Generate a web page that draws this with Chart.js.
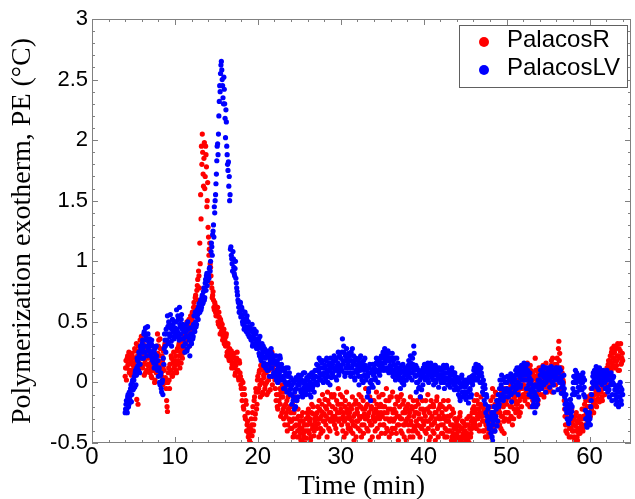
<!DOCTYPE html>
<html><head><meta charset="utf-8">
<script src="https://cdn.jsdelivr.net/npm/chart.js@4.4.1/dist/chart.umd.min.js"></script>
<style>html,body{margin:0;padding:0;background:#fff}</style>
</head><body><canvas id="c" width="635" height="499"></canvas>
<script>
const seriesNames = ['PalacosR', 'PalacosLV'];
const seriesColors = ['#ff0000', '#0000ff'];
const xTickValues = [0, 10, 20, 30, 40, 50, 60];
const yTickValues = [-0.5, 0, 0.5, 1, 1.5, 2, 2.5, 3];
const yTickLabels = ['-0.5', '0', '0.5', '1', '1.5', '2', '2.5', '3'];

// sample times (min), first pass
const times = [
4,4.1,4.2,4.3,4.4,4.5,4.6,4.7,4.8,4.9,
5,5.1,5.2,5.3,5.4,5.5,5.6,5.7,5.8,5.9,
6,6.1,6.2,6.3,6.4,6.5,6.6,6.7,6.8,6.9,
7,7.1,7.2,7.3,7.4,7.5,7.6,7.7,7.8,7.9,
8,8.1,8.2,8.3,8.4,8.5,8.6,8.7,8.8,8.9,
9,9.1,9.2,9.3,9.4,9.5,9.6,9.7,9.8,9.9,
10,10.1,10.2,10.3,10.4,10.5,10.6,10.7,10.8,10.9,
11,11.1,11.2,11.3,11.4,11.5,11.6,11.7,11.8,11.9,
12,12.1,12.2,12.3,12.4,12.5,12.6,12.7,12.8,12.9,
13,13.1,13.2,13.3,13.4,13.5,13.6,13.7,13.8,13.9,
14,14.1,14.2,14.3,14.4,14.5,14.6,14.7,14.8,14.9,
15,15.1,15.2,15.3,15.4,15.5,15.6,15.7,15.8,15.9,
16,16.1,16.2,16.3,16.4,16.5,16.6,16.7,16.8,16.9,
17,17.1,17.2,17.3,17.4,17.5,17.6,17.7,17.8,17.9,
18,18.1,18.2,18.3,18.4,18.5,18.6,18.7,18.8,18.9,
19,19.1,19.2,19.3,19.4,19.5,19.6,19.7,19.8,19.9,
20,20.1,20.2,20.3,20.4,20.5,20.6,20.7,20.8,20.9,
21,21.1,21.2,21.3,21.4,21.5,21.6,21.7,21.8,21.9,
22,22.1,22.2,22.3,22.4,22.5,22.6,22.7,22.8,22.9,
23,23.1,23.2,23.3,23.4,23.5,23.6,23.7,23.8,23.9,
24,24.1,24.2,24.3,24.4,24.5,24.6,24.7,24.8,24.9,
25,25.1,25.2,25.3,25.4,25.5,25.6,25.7,25.8,25.9,
26,26.1,26.2,26.3,26.4,26.5,26.6,26.7,26.8,26.9,
27,27.1,27.2,27.3,27.4,27.5,27.6,27.7,27.8,27.9,
28,28.1,28.2,28.3,28.4,28.5,28.6,28.7,28.8,28.9,
29,29.1,29.2,29.3,29.4,29.5,29.6,29.7,29.8,29.9,
30,30.1,30.2,30.3,30.4,30.5,30.6,30.7,30.8,30.9,
31,31.1,31.2,31.3,31.4,31.5,31.6,31.7,31.8,31.9,
32,32.1,32.2,32.3,32.4,32.5,32.6,32.7,32.8,32.9,
33,33.1,33.2,33.3,33.4,33.5,33.6,33.7,33.8,33.9,
34,34.1,34.2,34.3,34.4,34.5,34.6,34.7,34.8,34.9,
35,35.1,35.2,35.3,35.4,35.5,35.6,35.7,35.8,35.9,
36,36.1,36.2,36.3,36.4,36.5,36.6,36.7,36.8,36.9,
37,37.1,37.2,37.3,37.4,37.5,37.6,37.7,37.8,37.9,
38,38.1,38.2,38.3,38.4,38.5,38.6,38.7,38.8,38.9,
39,39.1,39.2,39.3,39.4,39.5,39.6,39.7,39.8,39.9,
40,40.1,40.2,40.3,40.4,40.5,40.6,40.7,40.8,40.9,
41,41.1,41.2,41.3,41.4,41.5,41.6,41.7,41.8,41.9,
42,42.1,42.2,42.3,42.4,42.5,42.6,42.7,42.8,42.9,
43,43.1,43.2,43.3,43.4,43.5,43.6,43.7,43.8,43.9,
44,44.1,44.2,44.3,44.4,44.5,44.6,44.7,44.8,44.9,
45,45.1,45.2,45.3,45.4,45.5,45.6,45.7,45.8,45.9,
46,46.1,46.2,46.3,46.4,46.5,46.6,46.7,46.8,46.9,
47,47.1,47.2,47.3,47.4,47.5,47.6,47.7,47.8,47.9,
48,48.1,48.2,48.3,48.4,48.5,48.6,48.7,48.8,48.9,
49,49.1,49.2,49.3,49.4,49.5,49.6,49.7,49.8,49.9,
50,50.1,50.2,50.3,50.4,50.5,50.6,50.7,50.8,50.9,
51,51.1,51.2,51.3,51.4,51.5,51.6,51.7,51.8,51.9,
52,52.1,52.2,52.3,52.4,52.5,52.6,52.7,52.8,52.9,
53,53.1,53.2,53.3,53.4,53.5,53.6,53.7,53.8,53.9,
54,54.1,54.2,54.3,54.4,54.5,54.6,54.7,54.8,54.9,
55,55.1,55.2,55.3,55.4,55.5,55.6,55.7,55.8,55.9,
56,56.1,56.2,56.3,56.4,56.5,56.6,56.7,56.8,56.9,
57,57.1,57.2,57.3,57.4,57.5,57.6,57.7,57.8,57.9,
58,58.1,58.2,58.3,58.4,58.5,58.6,58.7,58.8,58.9,
59,59.1,59.2,59.3,59.4,59.5,59.6,59.7,59.8,59.9,
60,60.1,60.2,60.3,60.4,60.5,60.6,60.7,60.8,60.9,
61,61.1,61.2,61.3,61.4,61.5,61.6,61.7,61.8,61.9,
62,62.1,62.2,62.3,62.4,62.5,62.6,62.7,62.8,62.9,
63,63.1,63.2,63.3,63.4,63.5,63.6,63.7,63.8,63.9,
64
];

// sample times (min), interleaved second pass
const timesHalf = [
4.05,4.15,4.25,4.35,4.45,4.55,4.65,4.75,4.85,4.95,
5.05,5.15,5.25,5.35,5.45,5.55,5.65,5.75,5.85,5.95,
6.05,6.15,6.25,6.35,6.45,6.55,6.65,6.75,6.85,6.95,
7.05,7.15,7.25,7.35,7.45,7.55,7.65,7.75,7.85,7.95,
8.05,8.15,8.25,8.35,8.45,8.55,8.65,8.75,8.85,8.95,
9.05,9.15,9.25,9.35,9.45,9.55,9.65,9.75,9.85,9.95,
10.05,10.15,10.25,10.35,10.45,10.55,10.65,10.75,10.85,10.95,
11.05,11.15,11.25,11.35,11.45,11.55,11.65,11.75,11.85,11.95,
12.05,12.15,12.25,12.35,12.45,12.55,12.65,12.75,12.85,12.95,
13.05,13.15,13.25,13.35,13.45,13.55,13.65,13.75,13.85,13.95,
14.05,14.15,14.25,14.35,14.45,14.55,14.65,14.75,14.85,14.95,
15.05,15.15,15.25,15.35,15.45,15.55,15.65,15.75,15.85,15.95,
16.05,16.15,16.25,16.35,16.45,16.55,16.65,16.75,16.85,16.95,
17.05,17.15,17.25,17.35,17.45,17.55,17.65,17.75,17.85,17.95,
18.05,18.15,18.25,18.35,18.45,18.55,18.65,18.75,18.85,18.95,
19.05,19.15,19.25,19.35,19.45,19.55,19.65,19.75,19.85,19.95,
20.05,20.15,20.25,20.35,20.45,20.55,20.65,20.75,20.85,20.95,
21.05,21.15,21.25,21.35,21.45,21.55,21.65,21.75,21.85,21.95,
22.05,22.15,22.25,22.35,22.45,22.55,22.65,22.75,22.85,22.95,
23.05,23.15,23.25,23.35,23.45,23.55,23.65,23.75,23.85,23.95,
24.05,24.15,24.25,24.35,24.45,24.55,24.65,24.75,24.85,24.95,
25.05,25.15,25.25,25.35,25.45,25.55,25.65,25.75,25.85,25.95,
26.05,26.15,26.25,26.35,26.45,26.55,26.65,26.75,26.85,26.95,
27.05,27.15,27.25,27.35,27.45,27.55,27.65,27.75,27.85,27.95,
28.05,28.15,28.25,28.35,28.45,28.55,28.65,28.75,28.85,28.95,
29.05,29.15,29.25,29.35,29.45,29.55,29.65,29.75,29.85,29.95,
30.05,30.15,30.25,30.35,30.45,30.55,30.65,30.75,30.85,30.95,
31.05,31.15,31.25,31.35,31.45,31.55,31.65,31.75,31.85,31.95,
32.05,32.15,32.25,32.35,32.45,32.55,32.65,32.75,32.85,32.95,
33.05,33.15,33.25,33.35,33.45,33.55,33.65,33.75,33.85,33.95,
34.05,34.15,34.25,34.35,34.45,34.55,34.65,34.75,34.85,34.95,
35.05,35.15,35.25,35.35,35.45,35.55,35.65,35.75,35.85,35.95,
36.05,36.15,36.25,36.35,36.45,36.55,36.65,36.75,36.85,36.95,
37.05,37.15,37.25,37.35,37.45,37.55,37.65,37.75,37.85,37.95,
38.05,38.15,38.25,38.35,38.45,38.55,38.65,38.75,38.85,38.95,
39.05,39.15,39.25,39.35,39.45,39.55,39.65,39.75,39.85,39.95,
40.05,40.15,40.25,40.35,40.45,40.55,40.65,40.75,40.85,40.95,
41.05,41.15,41.25,41.35,41.45,41.55,41.65,41.75,41.85,41.95,
42.05,42.15,42.25,42.35,42.45,42.55,42.65,42.75,42.85,42.95,
43.05,43.15,43.25,43.35,43.45,43.55,43.65,43.75,43.85,43.95,
44.05,44.15,44.25,44.35,44.45,44.55,44.65,44.75,44.85,44.95,
45.05,45.15,45.25,45.35,45.45,45.55,45.65,45.75,45.85,45.95,
46.05,46.15,46.25,46.35,46.45,46.55,46.65,46.75,46.85,46.95,
47.05,47.15,47.25,47.35,47.45,47.55,47.65,47.75,47.85,47.95,
48.05,48.15,48.25,48.35,48.45,48.55,48.65,48.75,48.85,48.95,
49.05,49.15,49.25,49.35,49.45,49.55,49.65,49.75,49.85,49.95,
50.05,50.15,50.25,50.35,50.45,50.55,50.65,50.75,50.85,50.95,
51.05,51.15,51.25,51.35,51.45,51.55,51.65,51.75,51.85,51.95,
52.05,52.15,52.25,52.35,52.45,52.55,52.65,52.75,52.85,52.95,
53.05,53.15,53.25,53.35,53.45,53.55,53.65,53.75,53.85,53.95,
54.05,54.15,54.25,54.35,54.45,54.55,54.65,54.75,54.85,54.95,
55.05,55.15,55.25,55.35,55.45,55.55,55.65,55.75,55.85,55.95,
56.05,56.15,56.25,56.35,56.45,56.55,56.65,56.75,56.85,56.95,
57.05,57.15,57.25,57.35,57.45,57.55,57.65,57.75,57.85,57.95,
58.05,58.15,58.25,58.35,58.45,58.55,58.65,58.75,58.85,58.95,
59.05,59.15,59.25,59.35,59.45,59.55,59.65,59.75,59.85,59.95,
60.05,60.15,60.25,60.35,60.45,60.55,60.65,60.75,60.85,60.95,
61.05,61.15,61.25,61.35,61.45,61.55,61.65,61.75,61.85,61.95,
62.05,62.15,62.25,62.35,62.45,62.55,62.65,62.75,62.85,62.95,
63.05,63.15,63.25,63.35,63.45,63.55,63.65,63.75,63.85,63.95
];

const palacosR = [
0.05,0.18,0.12,0.22,0.15,0.08,0.20,0.16,0.24,0.10,
0.20,0.14,0.26,0.18,-0.14,0.22,0.30,0.16,0.35,0.24,
0.28,0.12,0.22,0.06,0.18,0.30,0.10,0.25,0.15,0.20,
0.08,0.16,0.04,0.12,0.22,0.10,0.02,0.14,0.18,0.40,
0.30,0.22,0.36,0.12,0.05,0.18,0.26,0.10,0.32,0.00,
-0.15,-0.24,0.08,0.02,0.15,0.10,0.20,0.05,0.18,0.12,
0.14,0.22,0.08,0.28,0.18,0.32,0.12,0.25,0.34,0.20,
0.30,0.38,0.26,0.44,0.35,0.48,0.40,0.52,0.36,0.55,
0.45,0.58,0.50,0.66,0.55,0.72,0.62,0.80,0.68,0.88,
1.15,1.55,1.95,2.05,1.72,1.85,1.60,1.95,1.78,1.50,
1.28,1.05,1.15,0.95,0.82,0.70,0.75,0.62,0.66,0.58,
0.60,0.55,0.50,0.58,0.46,0.52,0.42,0.48,0.38,0.44,
0.36,0.30,0.40,0.25,0.32,0.20,0.28,0.18,0.26,0.15,
0.22,0.12,0.20,0.08,0.18,0.25,0.10,0.02,0.16,0.05,
-0.05,-0.15,0.00,-0.22,-0.10,-0.30,-0.18,-0.35,-0.25,-0.42,
-0.48,-0.38,-0.30,-0.44,-0.20,-0.35,-0.12,-0.26,-0.08,-0.18,
0.05,-0.05,0.10,-0.12,0.02,0.12,-0.08,0.06,0.15,-0.02,
0.08,-0.10,0.12,0.02,0.22,-0.06,0.18,0.25,0.05,0.14,
0.10,-0.05,-0.15,0.05,-0.22,-0.10,0.02,-0.18,-0.08,-0.25,
-0.12,-0.30,-0.20,-0.05,-0.28,-0.15,-0.35,-0.22,-0.10,-0.32,
-0.25,-0.38,-0.18,-0.30,-0.42,-0.22,-0.35,-0.15,-0.40,-0.28,
-0.45,-0.32,-0.48,-0.38,-0.25,-0.42,-0.35,-0.50,-0.30,-0.40,
-0.35,-0.22,-0.42,-0.30,-0.45,-0.18,-0.38,-0.26,-0.40,-0.32,
-0.28,-0.38,-0.20,-0.34,-0.15,-0.30,-0.42,-0.24,-0.10,-0.32,
-0.26,-0.14,-0.35,-0.22,-0.08,-0.30,-0.18,-0.40,-0.25,-0.12,
-0.20,-0.32,-0.10,-0.28,-0.38,-0.15,-0.25,-0.05,-0.30,-0.18,
-0.22,-0.35,-0.12,-0.28,-0.45,-0.20,-0.30,-0.08,-0.25,-0.38,
-0.18,-0.30,-0.40,-0.22,-0.12,-0.35,-0.48,-0.26,-0.15,-0.32,
-0.25,-0.38,-0.10,-0.30,-0.20,-0.45,-0.28,-0.15,-0.35,-0.22,
-0.05,-0.30,-0.18,-0.40,-0.25,-0.12,-0.35,-0.20,-0.45,-0.28,
-0.15,-0.32,-0.22,-0.08,-0.38,-0.25,-0.12,-0.30,-0.18,-0.42,
-0.28,-0.10,-0.35,-0.20,-0.30,-0.05,-0.25,-0.40,-0.15,-0.32,
-0.22,-0.12,-0.38,-0.25,0.05,-0.30,-0.18,-0.42,-0.28,-0.15,
-0.35,-0.20,-0.30,-0.10,-0.42,-0.25,-0.15,-0.35,-0.22,-0.48,
-0.30,-0.18,-0.40,-0.25,-0.12,-0.35,-0.22,-0.45,-0.28,-0.38,
-0.20,-0.32,-0.15,-0.42,-0.26,-0.36,-0.12,-0.30,0.05,-0.22,
-0.35,0.12,-0.28,-0.42,-0.22,-0.10,-0.32,-0.25,-0.45,-0.15,
-0.28,-0.40,-0.20,-0.33,-0.48,-0.25,-0.12,-0.36,-0.22,-0.30,
-0.18,-0.35,-0.25,-0.42,-0.15,-0.30,-0.38,-0.22,-0.45,-0.28,
-0.32,-0.20,-0.40,-0.27,-0.45,-0.35,-0.25,-0.48,-0.30,-0.38,
-0.42,-0.30,-0.48,-0.36,-0.25,-0.45,-0.38,-0.50,-0.33,-0.44,
-0.40,-0.48,-0.30,-0.45,-0.35,-0.50,-0.28,-0.42,-0.38,-0.22,
-0.30,-0.15,-0.35,-0.22,-0.10,-0.28,-0.18,-0.40,-0.25,-0.12,
-0.20,-0.32,-0.25,-0.40,-0.18,-0.35,-0.28,-0.45,-0.30,-0.38,
-0.25,-0.15,-0.35,-0.05,-0.28,-0.40,-0.18,-0.30,-0.10,-0.22,
-0.32,-0.15,-0.25,-0.38,-0.08,-0.28,-0.20,-0.42,-0.12,-0.30,
-0.18,-0.05,-0.25,-0.12,-0.30,-0.02,-0.20,-0.35,-0.10,-0.22,
-0.15,-0.25,0.02,-0.18,-0.08,-0.28,-0.12,0.05,-0.20,-0.05,
-0.10,0.02,-0.15,0.08,-0.05,0.16,-0.12,0.00,-0.20,0.10,
-0.05,0.08,-0.12,0.03,-0.20,0.10,-0.08,0.05,-0.15,0.12,
0.00,-0.10,0.08,-0.05,0.14,-0.12,0.05,-0.02,0.10,-0.08,
0.06,-0.04,0.12,0.00,0.18,-0.08,0.08,0.02,0.15,-0.02,
0.10,0.20,0.05,0.34,0.24,0.12,-0.05,0.08,0.02,-0.10,
-0.22,-0.35,-0.28,-0.42,-0.30,-0.20,-0.38,-0.25,-0.45,-0.32,
-0.40,-0.30,-0.48,-0.36,-0.25,-0.45,-0.33,-0.42,-0.28,-0.38,
-0.35,-0.22,-0.40,-0.30,-0.18,-0.36,-0.26,-0.12,-0.32,-0.20,
-0.15,-0.28,-0.05,-0.20,0.00,-0.25,-0.10,-0.18,-0.08,-0.14,
-0.10,-0.02,-0.16,0.04,-0.08,-0.12,0.02,-0.05,0.08,-0.03,
0.05,0.12,-0.02,0.18,0.08,0.22,0.10,0.28,0.14,0.20,
0.25,0.12,0.30,0.18,0.32,0.22,0.10,0.26,0.15,0.20,
0.18
];

const palacosRHalf = [
0.12,0.02,0.20,0.15,0.25,0.10,0.18,0.06,0.22,0.14,
0.16,0.28,0.10,0.32,0.20,-0.18,0.26,0.12,0.30,0.38,
0.20,0.32,0.15,0.26,0.08,0.22,0.35,0.14,0.28,0.10,
0.14,0.05,0.20,0.10,0.26,0.00,0.16,0.08,0.30,0.24,
0.35,0.15,0.28,0.08,0.22,-0.02,0.14,0.30,0.04,-0.05,
-0.20,0.00,0.12,-0.05,0.10,0.22,0.06,0.16,0.25,0.08,
0.18,0.10,0.26,0.15,0.30,0.22,0.36,0.16,0.28,0.24,
0.34,0.28,0.42,0.32,0.50,0.38,0.45,0.30,0.48,0.42,
0.52,0.48,0.62,0.56,0.70,0.60,0.76,0.85,0.92,0.78,
0.98,1.35,1.80,1.90,1.62,1.98,1.70,1.88,1.45,1.65,
1.20,1.10,0.98,0.88,0.78,0.72,0.68,0.60,0.64,0.55,
0.56,0.62,0.48,0.54,0.40,0.50,0.45,0.35,0.42,0.32,
0.34,0.38,0.22,0.30,0.26,0.18,0.24,0.22,0.12,0.20,
0.16,0.24,0.06,0.14,0.20,0.10,0.04,0.18,0.08,-0.02,
0.02,-0.10,-0.20,-0.05,-0.28,-0.15,-0.40,-0.32,-0.45,-0.38,
-0.42,-0.50,-0.35,-0.25,-0.40,-0.15,-0.30,-0.05,-0.22,0.02,
-0.08,0.08,-0.02,0.14,0.00,-0.10,0.10,0.04,-0.05,0.08,
0.00,0.15,-0.08,0.10,0.20,0.05,0.12,-0.02,0.18,0.06,
0.02,0.08,-0.10,-0.20,0.00,-0.15,-0.05,-0.28,-0.12,-0.02,
-0.22,-0.08,-0.35,-0.18,-0.25,-0.40,-0.12,-0.30,-0.20,-0.38,
-0.32,-0.20,-0.45,-0.25,-0.36,-0.12,-0.30,-0.45,-0.22,-0.35,
-0.38,-0.42,-0.28,-0.48,-0.32,-0.45,-0.40,-0.35,-0.46,-0.25,
-0.28,-0.40,-0.32,-0.48,-0.25,-0.35,-0.20,-0.44,-0.30,-0.38,
-0.35,-0.25,-0.30,-0.45,-0.22,-0.38,-0.28,-0.18,-0.40,-0.26,
-0.32,-0.20,-0.28,-0.45,-0.15,-0.38,-0.25,-0.32,-0.10,-0.30,
-0.28,-0.12,-0.35,-0.22,-0.30,-0.42,-0.18,-0.32,-0.25,-0.10,
-0.30,-0.18,-0.40,-0.25,-0.32,-0.15,-0.42,-0.22,-0.35,-0.28,
-0.25,-0.38,-0.20,-0.32,-0.42,-0.28,-0.18,-0.36,-0.45,-0.22,
-0.32,-0.18,-0.28,-0.40,-0.12,-0.35,-0.22,-0.42,-0.26,-0.30,
-0.20,-0.38,-0.28,-0.12,-0.32,-0.48,-0.22,-0.35,-0.15,-0.30,
-0.25,-0.40,-0.30,-0.18,-0.28,-0.45,-0.20,-0.35,-0.25,-0.10,
-0.20,-0.35,-0.25,-0.42,-0.15,-0.38,-0.30,-0.22,-0.45,-0.12,
-0.30,-0.42,-0.08,-0.32,-0.22,-0.38,-0.25,-0.12,-0.35,-0.48,
-0.28,-0.12,-0.40,-0.30,-0.18,-0.35,-0.45,-0.25,-0.32,-0.20,
-0.22,-0.35,-0.28,-0.45,-0.32,-0.20,-0.40,-0.15,-0.36,-0.25,
-0.40,-0.25,-0.35,-0.18,-0.30,-0.45,-0.22,-0.38,-0.15,-0.32,
-0.25,-0.40,-0.15,-0.32,-0.22,-0.38,-0.48,-0.20,-0.30,-0.35,
-0.35,-0.18,-0.42,-0.25,-0.30,-0.15,-0.38,-0.45,-0.28,-0.20,
-0.30,-0.42,-0.20,-0.35,-0.28,-0.45,-0.22,-0.32,-0.40,-0.15,
-0.40,-0.28,-0.35,-0.48,-0.22,-0.42,-0.38,-0.30,-0.45,-0.32,
-0.35,-0.45,-0.40,-0.28,-0.48,-0.38,-0.32,-0.42,-0.46,-0.36,
-0.45,-0.35,-0.42,-0.48,-0.28,-0.38,-0.45,-0.32,-0.25,-0.35,
-0.20,-0.32,-0.25,-0.38,-0.15,-0.30,-0.22,-0.35,-0.18,-0.28,
-0.28,-0.40,-0.22,-0.32,-0.45,-0.25,-0.38,-0.30,-0.42,-0.35,
-0.32,-0.20,-0.25,-0.12,-0.38,-0.30,-0.08,-0.25,-0.35,-0.15,
-0.22,-0.35,-0.10,-0.28,-0.40,-0.18,-0.32,-0.05,-0.25,-0.15,
-0.25,-0.12,-0.32,-0.08,-0.20,-0.28,-0.15,-0.05,-0.30,-0.12,
-0.08,-0.18,-0.02,-0.22,0.00,-0.15,-0.25,-0.05,-0.12,0.02,
-0.02,-0.12,0.05,-0.08,0.12,-0.18,0.06,-0.05,0.14,-0.10,
0.02,-0.15,0.06,-0.02,0.20,-0.10,0.00,-0.18,0.08,-0.05,
0.05,0.12,-0.05,0.02,-0.10,0.10,0.00,0.16,-0.04,0.06,
0.00,0.10,-0.06,0.14,0.04,0.20,-0.02,0.10,0.05,0.12,
0.15,0.05,0.28,0.18,0.08,0.02,0.12,-0.08,0.00,-0.15,
-0.28,-0.40,-0.18,-0.35,-0.25,-0.45,-0.30,-0.38,-0.22,-0.40,
-0.35,-0.45,-0.28,-0.40,-0.32,-0.48,-0.38,-0.30,-0.42,-0.34,
-0.30,-0.38,-0.28,-0.22,-0.35,-0.15,-0.30,-0.20,-0.26,-0.12,
-0.20,-0.10,-0.22,-0.12,-0.18,-0.04,-0.15,-0.06,-0.20,-0.02,
-0.05,-0.14,0.00,-0.08,0.05,-0.15,-0.04,0.06,-0.10,0.02,
0.10,0.02,0.15,0.05,0.18,0.12,0.25,0.16,0.24,0.30,
0.18,0.28,0.14,0.22,0.10,0.28,0.20,0.32,0.16,0.24
];

const palacosLV = [
-0.25,-0.18,-0.22,-0.12,-0.20,-0.08,-0.15,-0.02,-0.10,0.02,
-0.05,0.05,0.08,-0.02,0.12,0.18,0.10,0.22,0.15,0.28,
0.25,0.35,0.20,0.42,0.30,0.38,0.22,0.46,0.28,0.33,
0.30,0.22,0.35,0.18,0.26,0.12,0.28,0.15,0.22,0.10,
0.05,0.12,-0.02,0.08,-0.08,0.02,0.20,0.28,0.35,0.25,
0.40,0.55,0.32,0.48,0.38,0.45,0.30,0.52,0.42,0.36,
0.45,0.38,0.60,0.42,0.52,0.35,0.48,0.40,0.56,0.44,
0.30,0.42,0.25,0.38,0.48,0.28,0.44,0.35,0.22,0.40,
0.32,0.45,0.38,0.55,0.42,0.50,0.48,0.60,0.52,0.65,
0.58,0.68,0.62,0.72,0.66,0.78,0.70,0.85,0.88,0.80,
0.90,0.86,0.95,1.00,1.15,1.05,1.25,1.20,1.40,1.55,
1.72,1.95,1.88,2.20,2.45,2.55,2.65,2.50,2.35,2.52,
2.30,2.02,2.15,1.88,1.75,1.62,1.50,1.10,1.05,0.98,
1.08,0.95,0.88,1.00,0.82,0.75,0.68,0.62,0.58,0.66,
0.55,0.60,0.48,0.52,0.45,0.50,0.42,0.55,0.40,0.46,
0.38,0.44,0.35,0.48,0.32,0.40,0.36,0.30,0.42,0.34,
0.28,0.35,0.22,0.30,0.18,0.32,0.25,0.14,0.28,0.20,
0.15,0.25,0.10,0.22,0.05,0.18,0.28,0.12,0.20,0.08,
0.18,0.05,0.22,0.10,0.00,0.15,0.08,0.20,0.02,0.12,
0.05,-0.05,0.10,0.00,0.12,-0.08,0.06,-0.02,0.08,-0.10,
-0.05,-0.18,0.02,-0.12,-0.22,-0.06,0.04,-0.15,-0.02,0.06,
-0.02,0.05,-0.08,0.02,-0.12,0.08,-0.05,0.00,-0.10,0.04,
0.02,-0.06,0.06,-0.02,-0.12,0.08,-0.04,0.03,-0.08,0.10,
0.05,0.15,-0.02,0.10,0.20,0.02,0.12,0.06,0.18,0.00,
0.08,0.14,0.02,0.20,0.10,0.05,0.16,-0.02,0.12,0.08,
0.15,0.05,0.22,0.10,0.18,0.02,0.14,0.25,0.08,0.12,
0.20,0.10,0.36,0.15,0.25,0.05,0.18,0.28,0.08,0.14,
0.12,0.22,0.05,0.18,0.28,0.08,0.15,0.02,0.20,0.10,
0.08,0.18,-0.02,0.12,0.22,0.05,0.15,0.00,0.10,0.20,
0.05,0.12,-0.12,0.08,-0.05,0.15,-0.15,0.02,0.10,-0.04,
0.08,0.15,0.02,0.20,0.10,0.00,0.18,0.06,0.12,0.22,
0.15,0.25,0.10,0.28,0.18,0.22,0.12,0.26,0.08,0.20,
0.18,0.10,0.24,0.05,0.15,0.20,0.02,0.12,0.08,0.16,
0.05,0.12,-0.05,0.10,0.00,0.15,-0.02,0.08,0.12,0.02,
0.10,0.05,0.18,0.08,0.22,0.12,0.02,0.15,0.30,0.10,
0.05,-0.08,0.12,0.00,-0.05,0.08,-0.12,0.04,0.10,-0.02,
0.08,0.15,0.02,0.12,0.05,0.16,0.00,0.10,0.06,0.14,
0.04,0.12,-0.02,0.08,0.14,0.02,0.10,0.06,-0.04,0.12,
0.06,0.00,0.10,0.03,0.14,-0.05,0.08,0.02,0.12,-0.02,
0.04,0.10,-0.04,0.06,0.12,0.00,0.08,-0.06,0.05,0.02,
-0.05,0.04,-0.10,0.02,-0.15,-0.02,0.06,-0.12,0.00,-0.08,
-0.04,-0.14,0.02,-0.08,-0.17,0.04,-0.06,-0.12,0.05,-0.02,
0.06,0.12,0.02,0.15,0.08,0.04,0.14,0.10,0.00,0.12,
0.05,-0.08,0.02,-0.15,-0.05,-0.25,-0.12,-0.32,-0.20,-0.38,
-0.30,-0.42,-0.25,-0.48,-0.35,-0.20,-0.40,-0.28,-0.15,-0.32,
-0.10,-0.18,0.02,-0.12,0.06,-0.05,-0.15,0.04,-0.08,0.00,
-0.05,0.05,-0.12,0.02,-0.08,0.07,-0.16,0.00,-0.04,0.04,
0.02,0.10,-0.05,0.08,-0.10,0.12,0.04,-0.02,0.14,0.06,
0.10,0.16,0.02,0.12,-0.05,0.15,0.06,-0.10,0.08,0.00,
-0.08,-0.20,-0.05,-0.15,-0.25,-0.02,-0.12,-0.18,0.02,-0.06,
0.02,0.10,-0.05,0.06,0.13,-0.02,0.08,-0.08,0.04,0.12,
0.05,0.10,-0.04,0.08,0.13,0.00,0.06,-0.08,0.10,0.02,
0.12,0.04,-0.06,0.08,0.00,0.10,-0.09,0.05,-0.02,0.06,
-0.12,-0.22,-0.15,-0.30,-0.18,-0.34,-0.25,-0.14,-0.28,-0.20,
-0.05,0.05,-0.10,0.10,0.00,-0.08,0.06,-0.12,0.02,-0.04,
0.04,-0.06,0.08,-0.10,0.02,-0.23,-0.30,-0.37,-0.28,-0.33,
-0.25,-0.35,-0.15,-0.05,0.05,-0.02,0.10,0.04,0.13,-0.04,
0.08,-0.06,0.12,0.02,0.10,-0.02,0.06,0.00,0.08,-0.05,
0.04,0.10,-0.08,0.06,-0.12,0.02,0.08,-0.15,0.00,0.05,
-0.02,-0.10,-0.18,-0.05,-0.12,-0.20,-0.08,0.00,-0.15,-0.06,
-0.10
];

const palacosLVHalf = [
-0.22,-0.15,-0.25,-0.10,-0.18,-0.12,-0.05,-0.16,0.00,-0.06,
0.02,-0.04,0.10,0.06,0.20,0.14,0.25,0.08,0.30,0.20,
0.32,0.28,0.40,0.25,0.45,0.35,0.30,0.40,0.26,0.36,
0.25,0.32,0.20,0.30,0.16,0.24,0.20,0.30,0.12,0.18,
0.10,0.00,0.06,-0.05,0.00,-0.10,0.15,0.40,0.30,0.44,
0.35,0.46,0.50,0.40,0.56,0.34,0.44,0.48,0.38,0.50,
0.40,0.50,0.44,0.55,0.38,0.62,0.46,0.52,0.36,0.48,
0.36,0.46,0.32,0.42,0.26,0.50,0.38,0.30,0.45,0.34,
0.40,0.36,0.48,0.44,0.58,0.46,0.54,0.56,0.62,0.58,
0.64,0.60,0.70,0.65,0.75,0.68,0.82,0.76,0.90,0.84,
0.88,0.94,0.92,1.08,1.12,1.22,1.30,1.45,1.50,1.64,
1.83,1.97,2.05,2.32,2.40,2.62,2.58,2.45,2.30,2.42,
2.18,2.25,1.95,1.80,1.82,1.70,1.55,1.12,1.02,0.92,
1.02,0.90,0.94,0.86,0.78,0.72,0.66,0.58,0.64,0.54,
0.62,0.50,0.56,0.44,0.58,0.46,0.52,0.44,0.50,0.38,
0.45,0.36,0.42,0.30,0.38,0.44,0.32,0.40,0.28,0.36,
0.32,0.24,0.38,0.20,0.28,0.22,0.30,0.16,0.26,0.12,
0.22,0.10,0.26,0.15,0.20,0.12,0.24,0.05,0.16,0.22,
0.08,0.15,0.02,0.18,0.12,0.05,0.22,0.10,0.15,0.04,
0.10,0.02,-0.05,0.08,-0.02,0.05,0.12,0.00,-0.06,0.04,
-0.10,-0.02,-0.15,0.00,-0.08,-0.20,-0.05,0.02,-0.12,0.00,
0.02,-0.06,0.06,-0.10,0.00,-0.04,0.08,-0.08,0.02,-0.02,
-0.04,0.04,-0.10,0.00,0.06,-0.06,0.08,-0.02,0.04,0.00,
0.10,0.00,0.14,0.04,0.08,0.18,0.02,0.16,0.06,0.12,
0.12,0.04,0.18,0.08,0.00,0.14,0.10,0.20,0.04,0.16,
0.08,0.18,0.12,0.04,0.20,0.10,0.16,0.06,0.22,0.14,
0.12,0.25,0.18,0.30,0.08,0.22,0.12,0.20,0.15,0.24,
0.18,0.08,0.25,0.12,0.15,0.22,0.04,0.18,0.10,0.14,
0.14,0.05,0.20,0.10,0.16,0.02,0.12,0.18,0.06,0.14,
0.02,0.10,0.05,-0.08,0.12,0.00,0.08,-0.02,0.15,0.06,
0.12,0.04,0.16,0.10,0.18,0.08,0.14,0.20,0.10,0.16,
0.20,0.12,0.22,0.16,0.25,0.10,0.20,0.18,0.24,0.14,
0.12,0.20,0.08,0.18,0.10,0.14,0.06,0.20,0.12,0.04,
0.10,0.02,0.08,0.14,0.04,0.00,0.10,0.06,0.02,0.12,
0.06,0.14,0.10,0.04,0.16,0.08,0.20,0.12,0.24,0.06,
0.14,0.00,0.06,0.10,-0.04,0.02,0.08,-0.06,0.06,0.12,
0.12,0.04,0.10,0.14,0.08,0.02,0.12,0.06,0.16,0.08,
0.10,0.02,0.06,0.14,0.00,0.08,0.12,0.04,0.10,0.06,
0.02,0.10,0.06,0.12,0.00,0.08,0.04,0.14,0.02,0.08,
0.08,0.00,0.06,0.10,0.02,0.06,-0.02,0.08,0.00,-0.04,
0.02,-0.06,0.00,-0.12,-0.04,0.04,-0.08,-0.02,-0.10,0.02,
-0.10,-0.02,-0.08,0.00,-0.12,-0.05,0.02,-0.10,0.00,0.04,
0.10,0.04,0.12,0.08,0.14,0.02,0.10,0.06,0.12,0.08,
0.00,-0.04,-0.10,-0.02,-0.18,-0.10,-0.28,-0.22,-0.35,-0.30,
-0.38,-0.28,-0.45,-0.32,-0.25,-0.40,-0.30,-0.22,-0.36,-0.18,
-0.20,-0.05,-0.14,-0.02,-0.10,0.02,-0.06,-0.12,0.00,-0.08,
0.00,-0.08,0.04,-0.06,0.02,-0.10,0.05,-0.04,0.02,-0.08,
0.06,-0.02,0.12,0.00,0.06,0.10,-0.04,0.08,0.02,0.12,
0.14,0.06,0.12,0.08,0.02,0.10,-0.02,0.04,-0.06,0.02,
-0.12,-0.02,-0.18,-0.08,-0.10,-0.20,-0.04,-0.14,-0.02,0.00,
0.06,-0.02,0.10,0.00,0.08,0.04,0.12,0.00,0.08,0.06,
0.08,0.02,0.12,0.04,0.06,0.10,-0.02,0.06,0.04,0.12,
0.08,0.10,0.02,0.12,0.04,0.02,-0.04,0.00,-0.08,-0.05,
-0.18,-0.10,-0.25,-0.20,-0.32,-0.22,-0.30,-0.18,-0.24,-0.10,
0.00,-0.08,0.04,0.00,0.08,0.02,-0.04,0.04,-0.06,0.00,
0.06,0.00,0.04,-0.04,-0.12,-0.30,-0.35,-0.25,-0.32,-0.28,
-0.30,-0.20,-0.10,0.00,0.08,0.02,0.06,0.10,0.00,0.06,
0.04,0.10,0.00,0.06,0.08,0.02,0.10,0.04,0.00,0.06,
0.08,-0.04,0.02,-0.06,0.06,-0.02,0.00,-0.10,0.04,-0.02,
-0.06,-0.14,-0.04,-0.16,-0.08,-0.02,-0.12,-0.04,-0.18,-0.10
];

const SANS = '"Liberation Sans", Arial, Helvetica, sans-serif';
const SERIF = '"Liberation Serif", "Times New Roman", Times, serif';

function toPoints(ts, ys) { return ts.map((t, i) => ({ x: t, y: ys[i] })); }

const framePlugin = {
  id: 'frame',
  afterDatasetsDraw(chart) {
    const { ctx, chartArea: a, scales: { x, y } } = chart;
    ctx.save();
    ctx.strokeStyle = '#808080';
    ctx.lineWidth = 1;
    ctx.strokeRect(a.left + 0.5, a.top + 0.5, a.right - a.left - 1, a.bottom - a.top - 1);
    ctx.beginPath();
    for (let k = 0; k <= 32; k++) {
      const v = k * 2;
      const px = Math.round(x.getPixelForValue(v)) + 0.5;
      const len = (v % 10 === 0) ? 6 : 3;
      ctx.moveTo(px, a.bottom); ctx.lineTo(px, a.bottom - len);
      ctx.moveTo(px, a.top); ctx.lineTo(px, a.top + len);
    }
    for (let k = 0; k <= 35; k++) {
      const v = -0.5 + k * 0.1;
      const py = Math.round(y.getPixelForValue(v)) + 0.5;
      const len = (k % 5 === 0) ? 6 : 3;
      ctx.moveTo(a.left, py); ctx.lineTo(a.left + len, py);
      ctx.moveTo(a.right, py); ctx.lineTo(a.right - len, py);
    }
    ctx.stroke();
    ctx.restore();
  },
  afterDraw(chart) {
    const ctx = chart.ctx;
    ctx.save();
    ctx.fillStyle = '#fff';
    ctx.fillRect(459, 25, 168, 62);
    ctx.strokeStyle = '#606060';
    ctx.lineWidth = 1;
    ctx.strokeRect(459.5, 25.5, 168, 62);
    chart.data.datasets.forEach((ds, i) => {
      const cy = 42 + i * 28;
      ctx.fillStyle = ds.backgroundColor;
      ctx.beginPath();
      ctx.arc(484, cy, 5, 0, Math.PI * 2);
      ctx.fill();
      ctx.fillStyle = '#000';
      ctx.font = '24px ' + SANS;
      ctx.textBaseline = 'middle';
      ctx.textAlign = 'left';
      ctx.fillText(ds.label, 507, cy - 2);
    });
    ctx.restore();
  }
};

new Chart(document.getElementById('c'), {
  type: 'scatter',
  data: {
    datasets: [
      { label: seriesNames[0], order: 2, data: toPoints(times, palacosR).concat(toPoints(timesHalf, palacosRHalf)), backgroundColor: seriesColors[0], borderWidth: 0, pointRadius: 2.6 },
      { label: seriesNames[1], order: 1, data: toPoints(times, palacosLV).concat(toPoints(timesHalf, palacosLVHalf)), backgroundColor: seriesColors[1], borderWidth: 0, pointRadius: 2.6 }
    ]
  },
  options: {
    responsive: false,
    animation: false,
    layout: { padding: { top: 19, right: 1, left: 0, bottom: 0 } },
    plugins: { legend: { display: false }, tooltip: { enabled: false } },
    scales: {
      x: {
        type: 'linear', min: 0, max: 65,
        afterBuildTicks: s => { s.ticks = xTickValues.map(v => ({ value: v })); },
        afterFit: s => { s.height = 56; },
        grid: { display: false, drawTicks: false },
        border: { display: false },
        ticks: { font: { family: SANS, size: 24 }, color: '#000', padding: 0, maxRotation: 0, autoSkip: false, callback: v => String(v) },
        title: { display: true, text: 'Time (min)', color: '#000', font: { family: SERIF, size: 28, lineHeight: 0.9 }, padding: 0 }
      },
      y: {
        type: 'linear', min: -0.5, max: 3,
        afterBuildTicks: s => { s.ticks = yTickValues.map(v => ({ value: v })); },
        afterFit: s => { s.width = 92; },
        grid: { display: false, drawTicks: false },
        border: { display: false },
        ticks: { font: { family: SANS, size: 22 }, color: '#000', padding: 4, autoSkip: false, callback: v => yTickLabels[yTickValues.indexOf(v)] },
        title: { display: true, text: 'Polymerization exotherm, PE (°C)', color: '#000', font: { family: SERIF, size: 28, lineHeight: 1.2 }, padding: { top: 6, bottom: 0 } }
      }
    }
  },
  plugins: [framePlugin]
});
</script>
</body></html>
